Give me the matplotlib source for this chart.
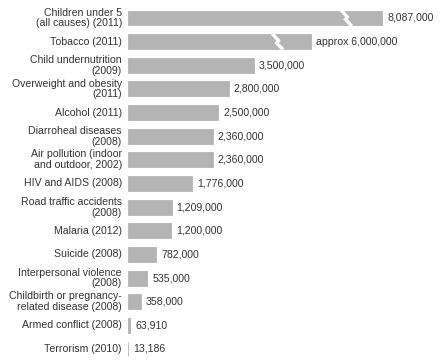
import matplotlib
matplotlib.use('Agg')
import matplotlib.pyplot as plt
import matplotlib.transforms as mtransforms

# data (deaths per year)
causes = [
	"Children under 5\n(all causes) (2011)",
	"Tobacco (2011)",
	"Child undernutrition\n(2009)",
	"Overweight and obesity\n(2011)",
	"Alcohol (2011)",
	"Diarroheal diseases\n(2008)",
	"Air pollution (indoor\nand outdoor, 2002)",
	"HIV and AIDS (2008)",
	"Road traffic accidents\n(2008)",
	"Malaria (2012)",
	"Suicide (2008)",
	"Interpersonal violence\n(2008)",
	"Childbirth or pregnancy-\nrelated disease (2008)",
	"Armed conflict (2008)",
	"Terrorism (2010)",
]
deaths = [8087000, 6000000, 3500000, 2800000, 2500000, 2360000, 2360000,
	1776000, 1209000, 1200000, 782000, 535000, 358000, 63910, 13186]
value_labels = ["8,087,000", "approx 6,000,000", "3,500,000", "2,800,000",
	"2,500,000", "2,360,000", "2,360,000", "1,776,000", "1,209,000",
	"1,200,000", "782,000", "535,000", "358,000", "63,910", "13,186"]

# bars drawn with a broken (shortened) length
broken = {0: 7060000, 1: 5080000}
break_at = {0: 6080000, 1: 4170000}

W, H = 440, 364
fig = plt.figure(figsize=(W / 100, H / 100), dpi=100)
left_px = 128
ax = fig.add_axes([left_px / W, 0, 1 - left_px / W, 1])
ax.set_xlim(0, (W - left_px) / 36.0 * 1e6)
ax.set_ylim(14.635, -0.761)
ax.axis('off')

bar_col = "#b4b4b4"
txt_col = "#333333"
font = ['Liberation Sans', 'DejaVu Sans']
fs = 7.6

lengths = [broken.get(i, v) for i, v in enumerate(deaths)]
ys = list(range(len(deaths)))
ax.barh(ys, lengths, height=0.63, color=bar_col, edgecolor=bar_col, lw=0.6, left=0)

lab_off = mtransforms.offset_copy(ax.transData, fig=fig, x=-6, y=0, units='dots')
val_off = mtransforms.offset_copy(ax.transData, fig=fig, x=5, y=0, units='dots')
for i, (c, n, lab) in enumerate(zip(causes, lengths, value_labels)):
	ax.text(0, i, c, transform=lab_off, ha='right', va='center',
		fontsize=fs, color=txt_col, family=font, linespacing=1.1)
	ax.text(n, i, lab, transform=val_off, ha='left', va='center',
		fontsize=fs, color=txt_col, family=font)

# white break marks (small zigzag)
unit = 1e6 / 36.0  # data per pixel
for i, xb in break_at.items():
	xs = [xb - 6 * unit, xb + 0.5 * unit, xb - 1.5 * unit, xb + 5 * unit]
	yv = [i - 0.34, i - 0.04, i + 0.06, i + 0.34]
	ax.plot(xs, yv, color='white', lw=2.4, solid_capstyle='butt', solid_joinstyle='miter')

fig.savefig("out.png", dpi=100)
